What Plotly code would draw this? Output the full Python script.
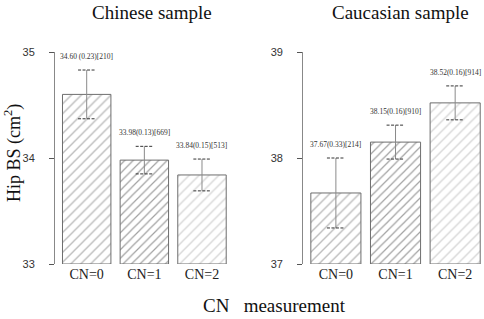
import plotly.graph_objects as go

categories = ["CN=0", "CN=1", "CN=2"]
chinese_mean = [34.60, 33.98, 33.84]
chinese_se = [0.23, 0.13, 0.15]
chinese_n = [210, 669, 513]
caucasian_mean = [37.67, 38.15, 38.52]
caucasian_se = [0.33, 0.16, 0.16]
caucasian_n = [214, 910, 914]
chinese_labels = ["34.60 (0.23)[210]", "33.98(0.13)[669]", "33.84(0.15)[513]"]
caucasian_labels = ["37.67(0.33)[214]", "38.15(0.16)[910]", "38.52(0.16)[914]"]
chinese_range = [33, 35]
caucasian_range = [37, 39]

hatch_colors = ["#7a7a7a", "#444444", "#b0b0b0"]
hatch_sizes = [7, 6, 7]
SERIF = "Liberation Serif"

L, R, T, B = 55, 2, 52, 55
W, H = 484, 319
PW = W - L - R


def px_to_paper(px):
    return (px - L) / PW


fig = go.Figure()
xs = list(range(len(categories)))

panels = [
    (chinese_mean, chinese_se, chinese_labels, chinese_range, "x", "y"),
    (caucasian_mean, caucasian_se, caucasian_labels, caucasian_range, "x2", "y2"),
]

cap_half = 0.15
for means, ses, labels, yr, xa, ya in panels:
    base = yr[0]
    fig.add_trace(go.Bar(
        x=xs, y=[m - base for m in means], base=base, width=0.84,
        xaxis=xa, yaxis=ya,
        marker=dict(color="white",
                    line=dict(color="#6e6e6e", width=1),
                    pattern=dict(shape="/", fgcolor=hatch_colors, bgcolor="white",
                                 size=hatch_sizes, solidity=0.2)),
        showlegend=False, hoverinfo="skip"))
    for i, (m, s) in enumerate(zip(means, ses)):
        fig.add_trace(go.Scatter(x=[i, i], y=[m - s, m + s], mode="lines",
                                 line=dict(color="#8a8a8a", width=1),
                                 xaxis=xa, yaxis=ya, showlegend=False, hoverinfo="skip"))
        for yy in (m - s, m + s):
            fig.add_trace(go.Scatter(x=[i - cap_half, i + cap_half], y=[yy, yy], mode="lines",
                                     line=dict(color="#333333", width=1, dash="3px,1.5px"),
                                     xaxis=xa, yaxis=ya, showlegend=False, hoverinfo="skip"))
        fig.add_annotation(x=i, y=m + s, xref=xa, yref=ya, text=labels[i],
                           showarrow=False, xanchor="center", yanchor="bottom", yshift=7,
                           font=dict(family=SERIF, size=7.5, color="#333333"))

axis_common = dict(tickmode="array", tickvals=xs, ticktext=categories, range=[-0.55, 2.45],
                   showline=False, showgrid=False, zeroline=False, ticks="",
                   tickfont=dict(family=SERIF, size=14, color="#222"))
yaxis_common = dict(showline=True, linecolor="#888888", linewidth=1, ticks="outside",
                    ticklen=5, tickcolor="#555555", showgrid=False, zeroline=False,
                    dtick=1, ticklabelstandoff=12,
                    tickfont=dict(family="Liberation Sans", size=11, color="#333"))

fig.update_layout(
    width=W, height=H,
    margin=dict(l=L, r=R, t=T, b=B, autoexpand=False),
    paper_bgcolor="white", plot_bgcolor="white",
    xaxis=dict(domain=[0, 0.405], anchor="y", **axis_common),
    xaxis2=dict(domain=[0.581, 1.0], anchor="y2", **axis_common),
    yaxis=dict(domain=[0, 1], anchor="x", range=chinese_range, **yaxis_common),
    yaxis2=dict(domain=[0, 1], anchor="x2", range=caucasian_range, **yaxis_common),
)

title_font = dict(family=SERIF, size=19, color="#111")
fig.add_annotation(x=px_to_paper(152), y=1, xref="paper", yref="paper",
                   xanchor="center", yanchor="middle", yshift=40,
                   text="Chinese sample", showarrow=False, font=title_font)
fig.add_annotation(x=px_to_paper(400), y=1, xref="paper", yref="paper",
                   xanchor="center", yanchor="middle", yshift=40,
                   text="Caucasian sample", showarrow=False, font=title_font)
fig.add_annotation(x=px_to_paper(13), y=0.5, xref="paper", yref="paper",
                   xanchor="center", yanchor="middle", yshift=5,
                   text="Hip BS (cm<sup>2</sup>)", textangle=-90, showarrow=False,
                   font=dict(family=SERIF, size=18, color="#111"))
fig.add_annotation(x=px_to_paper(274), y=0, xref="paper", yref="paper",
                   xanchor="center", yanchor="middle", yshift=-41,
                   text="CN\u00a0\u00a0\u00a0measurement", showarrow=False,
                   font=title_font)

fig.write_html("out.html", config={"displayModeBar": False},
               post_script="document.body.style.margin='0';")
